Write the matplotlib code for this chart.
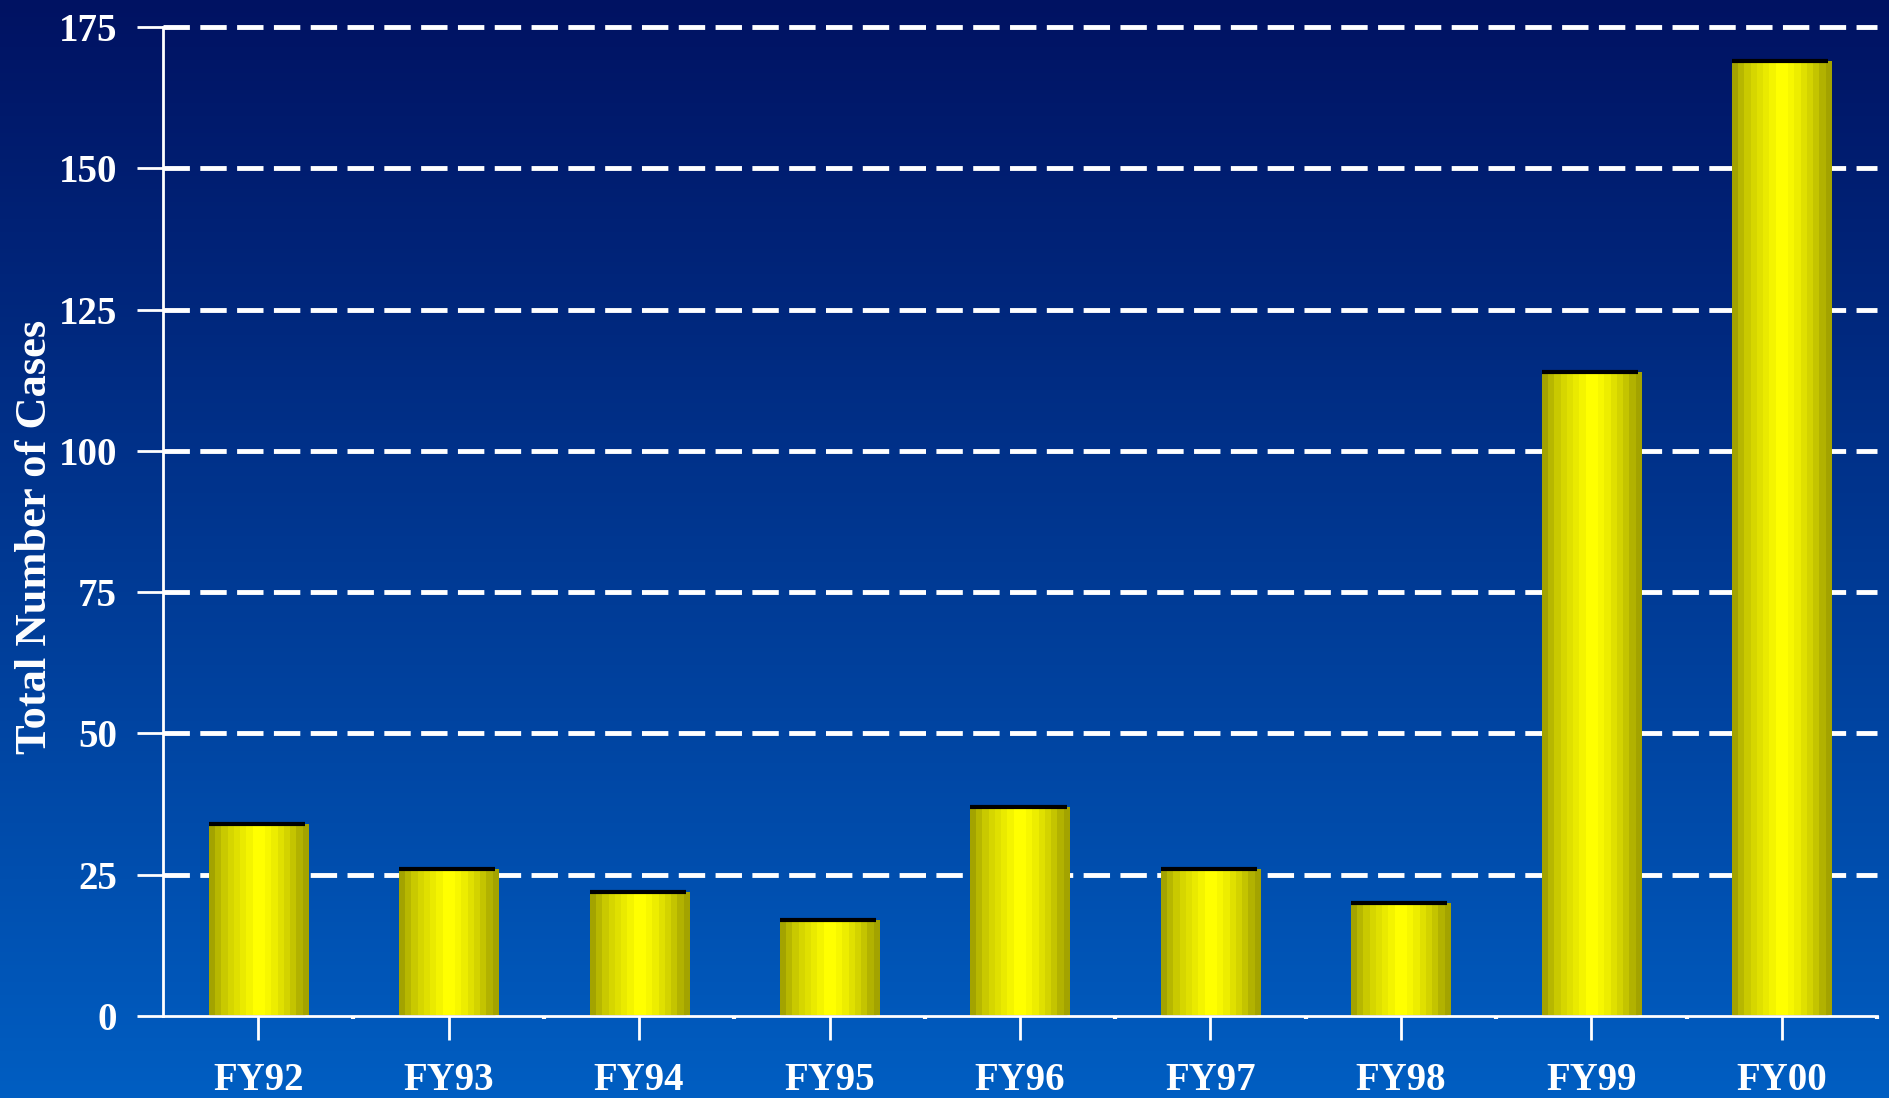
import numpy as np
import matplotlib
matplotlib.use("Agg")
import matplotlib.pyplot as plt

# data
years = ["FY92", "FY93", "FY94", "FY95", "FY96", "FY97", "FY98", "FY99", "FY00"]
cases = [34, 26, 22, 17, 37, 26, 20, 114, 169]
yticks = [0, 25, 50, 75, 100, 125, 150, 175]

plt.rcParams['font.family'] = ['Liberation Serif', 'DejaVu Serif']
plt.rcParams['font.weight'] = 'bold'
plt.rcParams['lines.scale_dashes'] = False

fig = plt.figure(figsize=(18.9, 10.98), dpi=100)

# background gradient, dark navy at top to bright blue at bottom
bg = fig.add_axes([0, 0, 1, 1], zorder=-10)
top = np.array([0, 18, 98]) / 255
bot = np.array([0, 94, 194]) / 255
t = np.linspace(0, 1, 256)[:, None]
grad = top[None, :] * (1 - t) + bot[None, :] * t
bg.imshow(grad[:, None, :], aspect='auto', extent=(0, 1, 0, 1))
bg.axis('off')

ax = fig.add_axes([163 / 1890, 82 / 1098, 1714 / 1890, 989 / 1098])
ax.set_facecolor('none')

x = np.arange(len(years))
bars = ax.bar(x, cases, width=0.52, color='#e0e000', zorder=3)

# banded "cylinder" shading inside each bar
levels = [0.64, 0.72, 0.79, 0.84, 0.88, 0.92, 0.96, 1.0, 1.0, 0.97, 0.93, 0.88, 0.83, 0.77, 0.70, 0.64]
shade = np.array([[[v, v, 0.0] for v in levels]])
for b in bars:
    x0, w, h = b.get_x(), b.get_width(), b.get_height()
    im = ax.imshow(shade, aspect='auto', interpolation='nearest',
                   extent=(x0, x0 + w, 0, h), zorder=4)
    im.set_clip_path(b)
    ax.hlines(h, x0, x0 + w * 0.97, color='black', lw=3, zorder=5)
    ax.hlines(0, x0, x0 + w * 0.97, color='black', lw=2, zorder=5)

ax.set_xlim(-0.5, len(years) - 0.5)
ax.set_ylim(0, 175)

ax.set_yticks(yticks)
ax.set_xticks(x)
ax.set_xticklabels(years)
ax.set_xticks(np.arange(len(years)) + 0.5, minor=True)

ax.tick_params(axis='y', colors='white', labelsize=28, length=19, width=2, pad=14)
ax.tick_params(axis='x', which='major', colors='white', labelsize=28, length=17, width=2, pad=16)
ax.tick_params(axis='x', which='minor', colors='white', length=2, width=3)

for s in ['top', 'right']:
    ax.spines[s].set_visible(False)
for s in ['left', 'bottom']:
    ax.spines[s].set_color('white')
    ax.spines[s].set_linewidth(2)
    ax.spines[s].set_zorder(6)

ax.set_axisbelow(True)
ax.yaxis.grid(True, color='white', lw=3.5, linestyle=(0, (19, 7.5)))
for gl in ax.get_ygridlines():
    gl.set_clip_on(False)
ax.get_ygridlines()[0].set_visible(False)

fig.text(35 / 1890, 1 - 537 / 1098, 'Total Number of Cases', rotation=90,
         ha='center', va='center', color='white', fontsize=32, fontweight='bold')

fig.savefig('out.png', dpi=100)
